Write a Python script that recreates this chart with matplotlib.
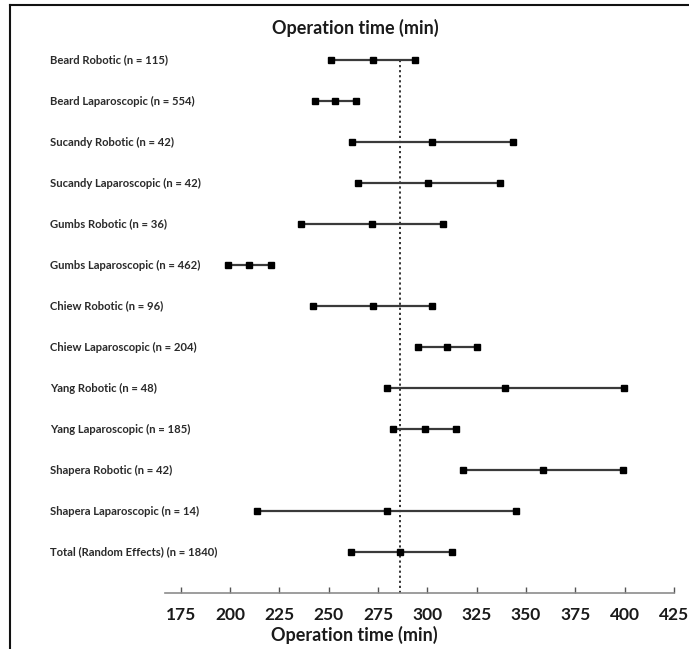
import matplotlib
matplotlib.use("Agg")
import matplotlib.pyplot as plt
from matplotlib.lines import Line2D

labels = [
    "Beard Robotic (n = 115)",
    "Beard Laparoscopic (n = 554)",
    "Sucandy Robotic (n = 42)",
    "Sucandy Laparoscopic (n = 42)",
    "Gumbs Robotic (n = 36)",
    "Gumbs Laparoscopic (n = 462)",
    "Chiew Robotic (n = 96)",
    "Chiew Laparoscopic (n = 204)",
    "Yang Robotic (n = 48)",
    "Yang Laparoscopic (n = 185)",
    "Shapera Robotic (n = 42)",
    "Shapera Laparoscopic (n = 14)",
    "Total (Random Effects) (n = 1840)",
]
lower = [250.9, 242.8, 261.7, 264.6, 235.7, 199.1, 242.0, 295.3, 279.4, 282.4, 317.9, 213.8, 261.2]
mean = [272.5, 253.4, 302.4, 300.2, 271.8, 209.6, 272.3, 310.1, 339.3, 298.6, 358.6, 279.6, 286.3]
upper = [293.6, 263.6, 343.4, 336.6, 308.0, 220.9, 302.5, 325.3, 399.5, 314.5, 399.4, 344.9, 312.5]
pooled_mean = 286.3
xticks = [175, 200, 225, 250, 275, 300, 325, 350, 375, 400, 425]
title = "Operation time (min)"

FONT = "Lato"
W, H = 689, 649
fig = plt.figure(figsize=(W / 100, H / 100), dpi=100)

ax_left, ax_right = 165 / W, 674 / W
ax_bottom = (H - 593) / H
ax_top = (H - 39.5) / H
ax = fig.add_axes([ax_left, ax_bottom, ax_right - ax_left, ax_top - ax_bottom])

n = len(labels)
ys = list(range(n))
for y, lo, m, hi in zip(ys, lower, mean, upper):
    ax.plot([lo, hi], [y, y], color="#3a3a3a", lw=1.6, solid_capstyle="butt", zorder=2)
    ax.plot([lo, m, hi], [y, y, y], linestyle="none", marker="s", markersize=4.6,
            color="black", zorder=3, clip_on=False)

ax.plot([pooled_mean, pooled_mean], [0, n], color="#222222", lw=1.3,
        linestyle=(0, (1.2, 1.6)), zorder=1, clip_on=False)

ax.set_xlim(167, 425)
ax.set_ylim(n, -0.5)
ax.set_yticks([])
ax.set_xticks(xticks)
ax.set_xticklabels([str(t) for t in xticks], fontsize=12.5, fontweight="bold",
                   family=FONT, color="#1a1a1a")
ax.tick_params(axis="x", direction="in", length=4, width=1, color="#555555", pad=10)
for s in ["top", "right", "left"]:
    ax.spines[s].set_visible(False)
ax.spines["bottom"].set_color("#8c8c8c")
ax.spines["bottom"].set_linewidth(1.2)

fig.text(354 / W, (H - 635) / H, title, ha="center", va="center", fontsize=13,
         fontweight="bold", family=FONT, color="#1a1a1a")

trans = matplotlib.transforms.blended_transform_factory(fig.transFigure, ax.transData)
for y, lab in zip(ys, labels):
    ax.text(50 / W, y, lab, transform=trans, ha="left", va="center", fontsize=8.1,
            fontweight="bold", family=FONT, color="#2a2a2a")

fig.text(355 / W, (H - 28) / H, title, ha="center", va="center", fontsize=13,
         fontweight="bold", family=FONT, color="#1a1a1a")

fig.add_artist(Line2D([10 / W, 1], [(H - 5) / H, (H - 5) / H], transform=fig.transFigure,
                      color="#111111", lw=1.5))
fig.add_artist(Line2D([10 / W, 10 / W], [0, (H - 5) / H], transform=fig.transFigure,
                      color="#111111", lw=1.5))

fig.savefig("out.png", dpi=100)
